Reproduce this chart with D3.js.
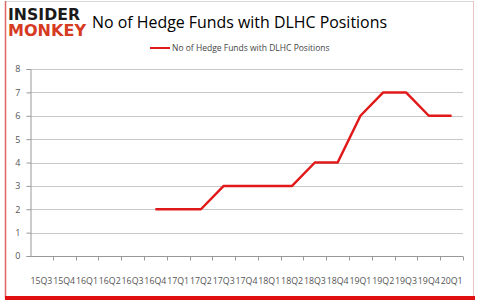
<!DOCTYPE html>
<html>
<head>
<meta charset="utf-8">
<script src="https://cdn.jsdelivr.net/npm/d3@7"></script>
<style>
  body { margin: 0; background: #fff; }
  svg { display: block; font-family: "Open Sans", "DejaVu Sans", sans-serif; }
</style>
</head>
<body>
<div id="chart"></div>
<script>
"use strict";
// quarters along the x axis
var quarters = ["15Q3", "15Q4", "16Q1", "16Q2", "16Q3", "16Q4", "17Q1", "17Q2", "17Q3", "17Q4",
  "18Q1", "18Q2", "18Q3", "18Q4", "19Q1", "19Q2", "19Q3", "19Q4", "20Q1"];
// hedge fund counts, null where no data
var funds = [null, null, null, null, null, 2, 2, 2, 3, 3, 3, 3, 4, 4, 6, 7, 7, 6, 6];
var yTicks = [0, 1, 2, 3, 4, 5, 6, 7, 8];

var w = 479, h = 307;
var margin = { left: 30, right: 16, top: 69, bottom: 51 };

var svg = d3.select("#chart").append("svg").attr("width", w).attr("height", h);

// frame
svg.append("rect").attr("x", 5.5).attr("y", 1.5).attr("width", 468).attr("height", 296)
  .attr("fill", "#fff").attr("stroke", "#d9d9d9");
svg.append("line").attr("x1", 5.5).attr("x2", 5.5).attr("y1", 1).attr("y2", 298)
  .attr("stroke", "#e06666").attr("stroke-width", 1.5);
svg.append("line").attr("x1", 473.5).attr("x2", 473.5).attr("y1", 1).attr("y2", 298)
  .attr("stroke", "#e8c4c4");
svg.append("rect").attr("x", 5).attr("y", 296).attr("width", 470).attr("height", 4)
  .attr("fill", "#e01010");

// logo, stretched vertically
svg.append("g").attr("transform", "translate(8,20) scale(1,1.15)")
  .append("text").text("INSIDER")
  .attr("font-family", "DejaVu Sans, sans-serif").attr("font-weight", "bold")
  .attr("font-size", 13.5).attr("fill", "#1a1a1a")
  .attr("textLength", 72).attr("lengthAdjust", "spacingAndGlyphs");
svg.append("g").attr("transform", "translate(8,36) scale(1,1.15)")
  .append("text").text("MONKEY")
  .attr("font-family", "DejaVu Sans, sans-serif").attr("font-weight", "bold")
  .attr("font-size", 13.5).attr("fill", "#d63a1f")
  .attr("textLength", 78).attr("lengthAdjust", "spacingAndGlyphs");

// title
svg.append("text").attr("x", 92).attr("y", 28).text("No of Hedge Funds with DLHC Positions")
  .attr("font-size", 17).attr("fill", "#000").attr("font-weight", 500)
  .attr("textLength", 295).attr("lengthAdjust", "spacingAndGlyphs");

// legend
svg.append("line").attr("x1", 150).attr("x2", 170).attr("y1", 48).attr("y2", 48)
  .attr("stroke", "#e01a1a").attr("stroke-width", 2);
svg.append("text").attr("x", 172).attr("y", 51).text("No of Hedge Funds with DLHC Positions")
  .attr("font-size", 8.5).attr("fill", "#444");

var x = d3.scaleBand().domain(quarters).range([margin.left, w - margin.right]);
var y = d3.scaleLinear().domain([0, 8]).range([h - margin.bottom, margin.top]);

// gridlines
svg.append("g").selectAll("line").data(yTicks.slice(1)).join("line")
  .attr("x1", margin.left).attr("x2", w - margin.right)
  .attr("y1", function(d) { return Math.round(y(d)) + 0.5; })
  .attr("y2", function(d) { return Math.round(y(d)) + 0.5; })
  .attr("stroke", "#c8c8c8");

// y axis
var yAxis = svg.append("g").attr("transform", "translate(" + (margin.left + 0.5) + ",0)")
  .call(d3.axisLeft(y).tickValues(yTicks).tickSize(4).tickPadding(6));
yAxis.select(".domain").attr("stroke", "#999");
yAxis.selectAll(".tick line").attr("stroke", "#999");
yAxis.selectAll("text").attr("font-size", 9).attr("fill", "#555").attr("font-family", "Open Sans, sans-serif");

// x axis with ticks at category boundaries
var xAxisY = Math.round(y(0)) + 0.5;
var xg = svg.append("g");
xg.append("line").attr("x1", margin.left).attr("x2", w - margin.right)
  .attr("y1", xAxisY).attr("y2", xAxisY).attr("stroke", "#999");
xg.selectAll("line.tk").data(quarters).join("line").attr("class", "tk")
  .attr("x1", function(d) { return Math.round(x(d) + x.bandwidth()) + 0.5; })
  .attr("x2", function(d) { return Math.round(x(d) + x.bandwidth()) + 0.5; })
  .attr("y1", xAxisY).attr("y2", xAxisY + 4).attr("stroke", "#999");
xg.selectAll("text").data(quarters).join("text")
  .attr("x", function(d) { return x(d) + x.bandwidth() / 2; })
  .attr("y", xAxisY + 27)
  .attr("text-anchor", "middle").attr("font-size", 8.8).attr("fill", "#555")
  .text(function(d) { return d; });

// line
var line = d3.line()
  .defined(function(d) { return d != null; })
  .x(function(d, i) { return x(quarters[i]) + x.bandwidth() / 2; })
  .y(function(d) { return y(d); });

svg.append("path").datum(funds).attr("d", line)
  .attr("fill", "none").attr("stroke", "#e01a1a").attr("stroke-width", 2.5)
  .attr("stroke-linejoin", "round");
</script>
</body>
</html>
